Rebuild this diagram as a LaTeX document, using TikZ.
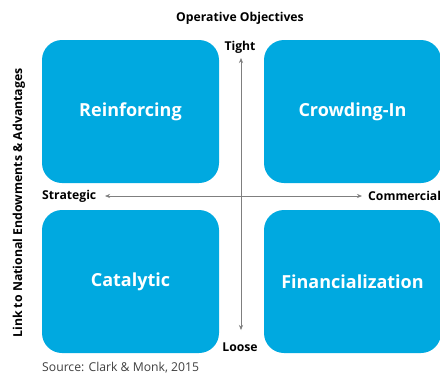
\documentclass[tikz,border=0pt]{standalone}
\usepackage{fontspec}
\setmainfont{Open Sans}
\usetikzlibrary{arrows.meta}
\definecolor{quadblue}{HTML}{00A9E0}
\definecolor{axisgray}{HTML}{7F7F7F}
\begin{document}
\begin{tikzpicture}[x=1pt,y=-1pt,
  quad/.style={fill=quadblue,draw=none,rounded corners=20pt,minimum width=177pt,minimum height=143pt,
    text=white,font=\fontsize{18}{20}\selectfont\bfseries,inner sep=0pt},
  axislabel/.style={font=\fontsize{12.2}{14}\selectfont\bfseries,text=black,inner sep=0pt},
  axis/.style={draw=axisgray,line width=0.6pt,-{Stealth[length=5pt,width=4pt]}}]
\clip (0,0) rectangle (440,376);
\fill[white] (0,0) rectangle (440,376);
% four quadrants
\node[quad] (reinf) at (130.5,111.5) {Reinforcing};
\node[quad] (crowd) at (352.5,111.5) {Crowding-In};
\node[quad] (catal) at (130.5,281.5) {Catalytic};
\node[quad] (finan) at (352.5,281.5) {Financialization};
% axis labels
\node[axislabel] (top) at (240,18) {Operative Objectives};
\node[axislabel] (tight) at (240,47) {Tight};
\node[axislabel] (loose) at (240,347) {Loose};
\node[axislabel,anchor=west] (strat) at (42,196) {Strategic};
\node[axislabel,anchor=west] (comm) at (368,196) {Commercial};
\node[axislabel,rotate=90,font=\fontsize{12.3}{14}\selectfont\bfseries] (link) at (19,203) {Link to National Endowments \& Advantages};
\node[font=\fontsize{12.2}{14}\selectfont,text=black!75,anchor=west,inner sep=0pt] (src) at (42,368) {Source: Clark \& Monk, 2015};
% axes
\coordinate (c) at (241,196);
\draw[axis] (c) -- (241,58);
\draw[axis] (c) -- (241,330);
\draw[axis] (c) -- (105,196);
\draw[axis] (c) -- (362,196);
\end{tikzpicture}
\end{document}
